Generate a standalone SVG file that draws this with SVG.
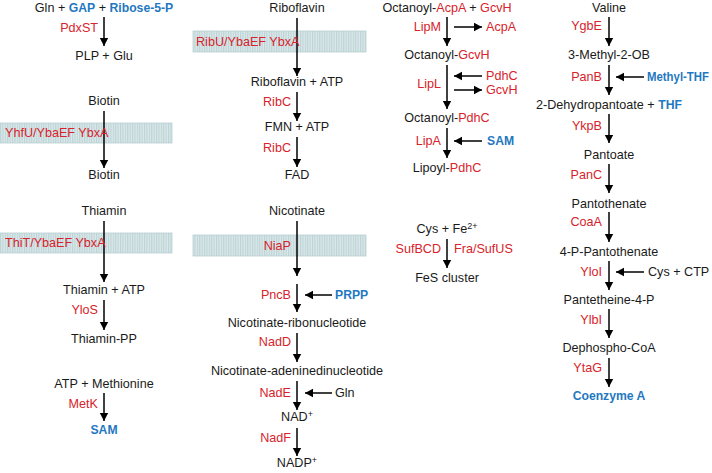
<svg xmlns="http://www.w3.org/2000/svg" width="712" height="473" viewBox="0 0 712 473">
<style>
text{font-family:"Liberation Sans",Arial,sans-serif;font-size:12.6px;fill:#1a1a1a}
.c{text-anchor:middle}
.e{fill:#d7232b;text-anchor:end}
.r{fill:#d7232b}
.b{fill:#1f78c1;font-weight:bold;font-size:12.2px}
.sup{font-size:9px}
.ln{stroke:#000;stroke-width:1.5;fill:none;marker-end:url(#ah)}
.band{fill:url(#mem);stroke:#b9cfd3;stroke-width:0.8}
</style>
<defs>
<marker id="ah" markerUnits="userSpaceOnUse" markerWidth="8" markerHeight="10" viewBox="0 0 8 10" refX="8" refY="5" orient="auto">
<path d="M0,0.8 L8,5 L0,9.2 z" fill="#000"/>
</marker>
<pattern id="mem" patternUnits="userSpaceOnUse" width="2.4" height="20">
<rect width="2.4" height="20" fill="#dbe8ea"/>
<rect width="1.1" height="20" fill="#bcd3d7"/>
</pattern>
</defs>

<g id="membranes">
<rect class="band" x="-1" y="123" width="173" height="20"/>
<rect class="band" x="-1" y="233" width="173" height="20"/>
<rect class="band" x="193" y="31" width="173" height="21"/>
<rect class="band" x="193" y="235" width="173" height="21"/>
</g>

<g id="connectors">
<path class="ln" d="M104,17 V46"/>
<path class="ln" d="M104,111 V168"/>
<path class="ln" d="M104,221 V282"/>
<path class="ln" d="M104,300 V330"/>
<path class="ln" d="M104,393 V421"/>
<path class="ln" d="M297,18 V76"/>
<path class="ln" d="M297,92 V121"/>
<path class="ln" d="M297,137 V167"/>
<path class="ln" d="M297,221 V276"/>
<path class="ln" d="M297,284 V312"/>
<path class="ln" d="M332,295 H305"/>
<path class="ln" d="M297,333 V362"/>
<path class="ln" d="M297,381 V410"/>
<path class="ln" d="M332,393 H305"/>
<path class="ln" d="M297,428 V456"/>
<path class="ln" d="M447,17 V46"/>
<path class="ln" d="M454,27 H482"/>
<path class="ln" d="M447,65 V109"/>
<path class="ln" d="M482,76 H454"/>
<path class="ln" d="M454,90 H482"/>
<path class="ln" d="M447,128 V158"/>
<path class="ln" d="M482,141 H454"/>
<path class="ln" d="M447,239 V268"/>
<path class="ln" d="M609,17 V46"/>
<path class="ln" d="M609,65 V95"/>
<path class="ln" d="M644,77 H616"/>
<path class="ln" d="M609,114 V143"/>
<path class="ln" d="M609,164 V193"/>
<path class="ln" d="M609,212 V242"/>
<path class="ln" d="M609,261 V290"/>
<path class="ln" d="M644,272 H616"/>
<path class="ln" d="M609,309 V338"/>
<path class="ln" d="M609,358 V387"/>
</g>

<g id="col1">
<g id="n-gln-gap"><text class="c" x="104" y="12">Gln + <tspan class="b">GAP</tspan> + <tspan class="b">Ribose-5-P</tspan></text></g>
<g id="e-pdxst"><text class="e" x="98" y="32">PdxST</text></g>
<g id="n-plp"><text class="c" x="104" y="60">PLP + Glu</text></g>
<g id="n-biotin-out"><text class="c" x="104" y="105">Biotin</text></g>
<g id="e-yhfu"><text class="r" x="5" y="137">YhfU/YbaEF YbxA</text></g>
<g id="n-biotin-in"><text class="c" x="104" y="179">Biotin</text></g>
<g id="n-thiamin-out"><text class="c" x="104" y="215">Thiamin</text></g>
<g id="e-thit"><text class="r" x="5" y="247">ThiT/YbaEF YbxA</text></g>
<g id="n-thiamin-atp"><text class="c" x="104" y="294">Thiamin + ATP</text></g>
<g id="e-ylos"><text class="e" x="98" y="314">YloS</text></g>
<g id="n-thiamin-pp"><text class="c" x="104" y="343">Thiamin-PP</text></g>
<g id="n-atp-met"><text class="c" x="104" y="388">ATP + Methionine</text></g>
<g id="e-metk"><text class="e" x="98" y="408">MetK</text></g>
<g id="n-sam"><text class="c b" x="104" y="434">SAM</text></g>
</g>

<g id="col2">
<g id="n-ribo-out"><text class="c" x="297" y="12">Riboflavin</text></g>
<g id="e-ribu"><text class="r" x="196" y="46">RibU/YbaEF YbxA</text></g>
<g id="n-ribo-atp"><text class="c" x="297" y="86">Riboflavin + ATP</text></g>
<g id="e-ribc1"><text class="e" x="291" y="106">RibC</text></g>
<g id="n-fmn"><text class="c" x="297" y="131">FMN + ATP</text></g>
<g id="e-ribc2"><text class="e" x="291" y="152">RibC</text></g>
<g id="n-fad"><text class="c" x="297" y="179">FAD</text></g>
<g id="n-nicotinate"><text class="c" x="297" y="215">Nicotinate</text></g>
<g id="e-niap"><text class="e" x="291" y="250">NiaP</text></g>
<g id="e-pncb"><text class="e" x="291" y="299">PncB</text></g>
<g id="n-prpp"><text class="b" x="335" y="299">PRPP</text></g>
<g id="n-nic-ribo"><text class="c" x="297" y="327">Nicotinate-ribonucleotide</text></g>
<g id="e-nadd"><text class="e" x="291" y="346">NadD</text></g>
<g id="n-nic-ade"><text class="c" x="297" y="375">Nicotinate-adeninedinucleotide</text></g>
<g id="e-nade"><text class="e" x="291" y="397">NadE</text></g>
<g id="n-gln2"><text x="335" y="397">Gln</text></g>
<g id="n-nad"><text class="c" x="297" y="421">NAD<tspan class="sup" dy="-4">+</tspan></text></g>
<g id="e-nadf"><text class="e" x="291" y="442">NadF</text></g>
<g id="n-nadp"><text class="c" x="297" y="467">NADP<tspan class="sup" dy="-4">+</tspan></text></g>
</g>

<g id="col3">
<g id="n-oct-acpa"><text class="c" x="447" y="12">Octanoyl-<tspan class="r">AcpA</tspan> + <tspan class="r">GcvH</tspan></text></g>
<g id="e-lipm"><text class="e" x="441" y="31">LipM</text></g>
<g id="n-acpa"><text class="r" x="486" y="31">AcpA</text></g>
<g id="n-oct-gcvh"><text class="c" x="447" y="59">Octanoyl-<tspan class="r">GcvH</tspan></text></g>
<g id="e-lipl"><text class="e" x="441" y="88">LipL</text></g>
<g id="n-pdhc"><text class="r" x="486" y="80">PdhC</text></g>
<g id="n-gcvh"><text class="r" x="486" y="94">GcvH</text></g>
<g id="n-oct-pdhc"><text class="c" x="447" y="122">Octanoyl-<tspan class="r">PdhC</tspan></text></g>
<g id="e-lipa"><text class="e" x="441" y="145">LipA</text></g>
<g id="n-sam2"><text class="b" x="487" y="145">SAM</text></g>
<g id="n-lipoyl"><text class="c" x="447" y="172">Lipoyl-<tspan class="r">PdhC</tspan></text></g>
<g id="n-cys-fe"><text class="c" x="447" y="233">Cys + Fe<tspan class="sup" dy="-4">2+</tspan></text></g>
<g id="e-sufbcd"><text class="e" x="441" y="253">SufBCD</text></g>
<g id="e-fra"><text class="r" x="454" y="253">Fra/SufUS</text></g>
<g id="n-fes"><text class="c" x="447" y="282">FeS cluster</text></g>
</g>

<g id="col4">
<g id="n-valine"><text class="c" x="609" y="12">Valine</text></g>
<g id="e-ygbe"><text class="e" x="602" y="30">YgbE</text></g>
<g id="n-3m2ob"><text class="c" x="609" y="59">3-Methyl-2-OB</text></g>
<g id="e-panb"><text class="e" x="602" y="81">PanB</text></g>
<g id="n-methyl-thf"><text class="b" x="647" y="81" textLength="62" lengthAdjust="spacingAndGlyphs">Methyl-THF</text></g>
<g id="n-dehydro"><text class="c" x="609" y="109">2-Dehydropantoate + <tspan class="b">THF</tspan></text></g>
<g id="e-ykpb"><text class="e" x="602" y="130">YkpB</text></g>
<g id="n-pantoate"><text class="c" x="609" y="159">Pantoate</text></g>
<g id="e-panc"><text class="e" x="602" y="179">PanC</text></g>
<g id="n-pantothenate"><text class="c" x="609" y="208">Pantothenate</text></g>
<g id="e-coaa"><text class="e" x="602" y="226">CoaA</text></g>
<g id="n-4p-pant"><text class="c" x="609" y="256">4-P-Pantothenate</text></g>
<g id="e-yloi"><text class="e" x="602" y="276">YloI</text></g>
<g id="n-cys-ctp"><text x="648" y="276">Cys + CTP</text></g>
<g id="n-pantetheine"><text class="c" x="609" y="304">Pantetheine-4-P</text></g>
<g id="e-ylbi"><text class="e" x="602" y="324">YlbI</text></g>
<g id="n-dephospho"><text class="c" x="609" y="352">Dephospho-CoA</text></g>
<g id="e-ytag"><text class="e" x="602" y="372">YtaG</text></g>
<g id="n-coa"><text class="c b" x="609" y="400">Coenzyme A</text></g>
</g>
</svg>
